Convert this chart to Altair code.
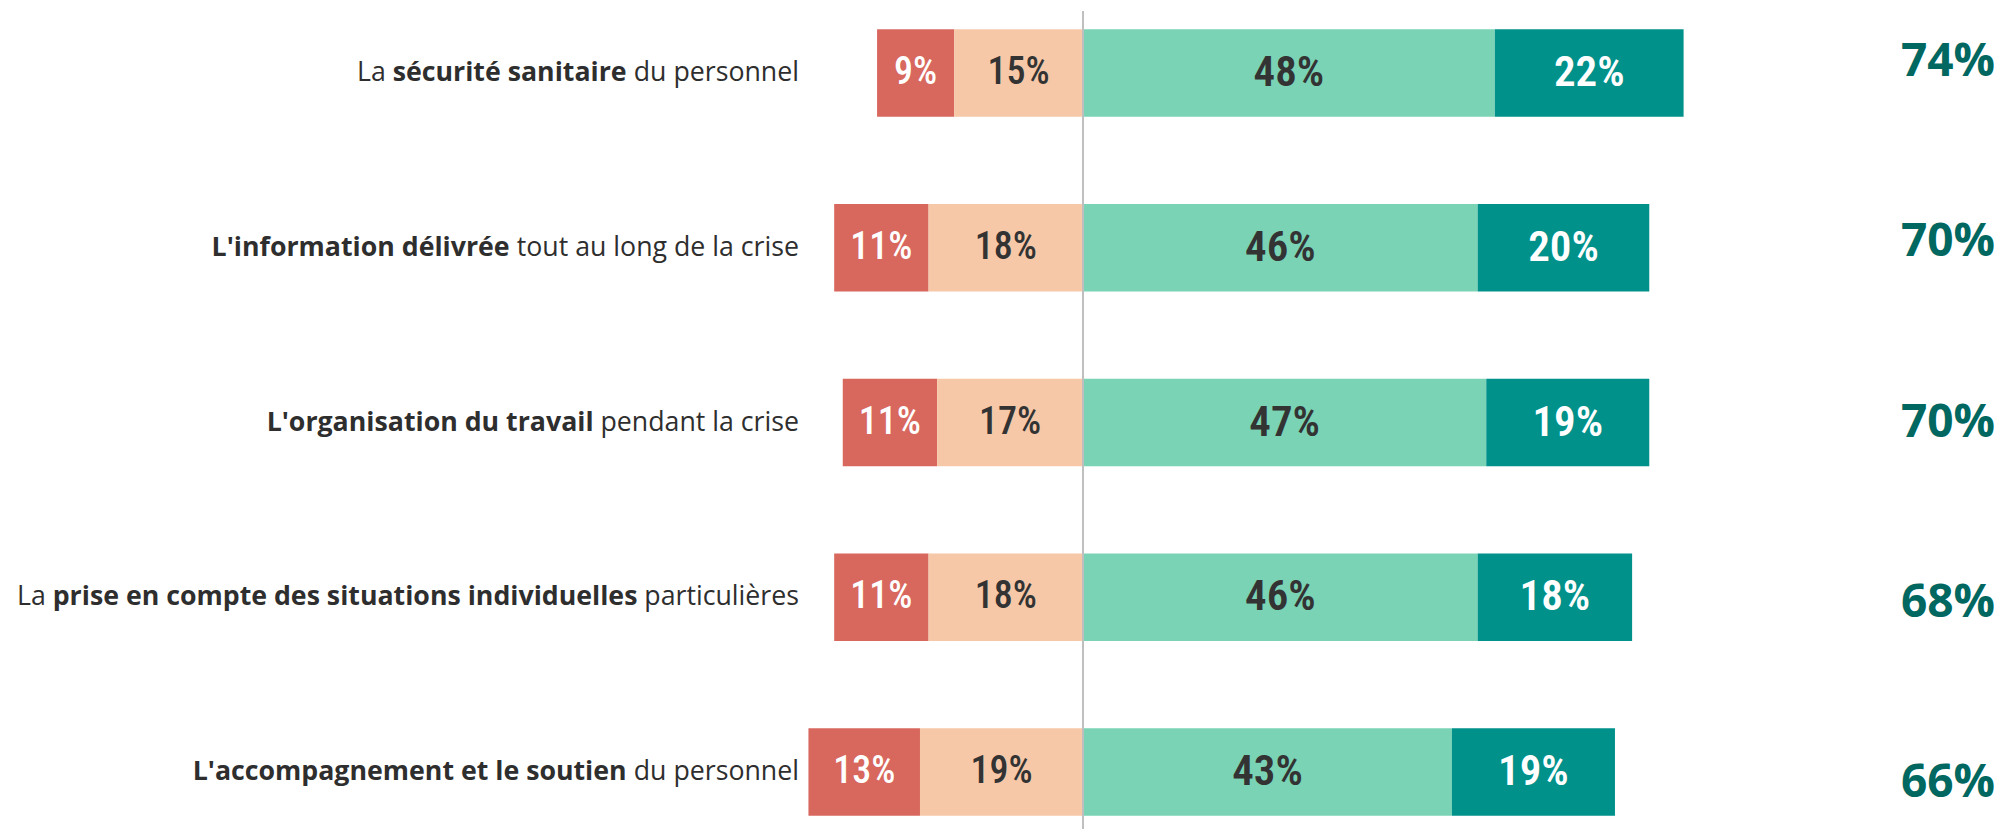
import glob
import os
import struct

import altair as alt
import pandas as pd

# ---------------- data ----------------
categories = [
    "La sécurité sanitaire du personnel",
    "L'information délivrée tout au long de la crise",
    "L'organisation du travail pendant la crise",
    "La prise en compte des situations individuelles particulières",
    "L'accompagnement et le soutien du personnel",
]
label_prefix = ["La", "", "", "La", ""]
label_bold = [
    "sécurité sanitaire",
    "L'information délivrée",
    "L'organisation du travail",
    "prise en compte des situations individuelles",
    "L'accompagnement et le soutien",
]
label_suffix = ["du personnel", "tout au long de la crise", "pendant la crise",
                "particulières", "du personnel"]

pas_du_tout = [9, 11, 11, 11, 13]      # red
plutot_pas = [15, 18, 17, 18, 19]      # peach
plutot_oui = [48, 46, 47, 46, 43]      # light green
tout_a_fait = [22, 20, 19, 18, 19]     # teal
totals = [74, 70, 70, 68, 66]

segments = ["pas_du_tout", "plutot_pas", "plutot_oui", "tout_a_fait"]
seg_colors = ["#D8675D", "#F6C8A8", "#7AD3B5", "#00918B"]
seg_text_colors = ["#FFFFFF", "#333333", "#333333", "#FFFFFF"]

# ---------------- font metrics (for mixed bold / regular labels) ----------------
FONT_FILES = []
for d in ["/usr/share/fonts", "/usr/local/share/fonts",
          os.path.expanduser("~/.fonts"), os.path.expanduser("~/.local/share/fonts")]:
    FONT_FILES += glob.glob(os.path.join(d, "**", "*.[ot]t[fc]"), recursive=True)


def load_width_fn(basename):
    path = None
    for f in FONT_FILES:
        if os.path.basename(f).lower() == basename.lower():
            path = f
            break
    if path is None:
        return None
    try:
        with open(path, "rb") as fh:
            data = fh.read()
        off = struct.unpack(">I", data[12:16])[0] if data[:4] == b"ttcf" else 0
        num_tables = struct.unpack(">H", data[off + 4:off + 6])[0]
        tables = {}
        for i in range(num_tables):
            rec = off + 12 + 16 * i
            tag = data[rec:rec + 4].decode("latin1")
            _, toff, tlen = struct.unpack(">III", data[rec + 4:rec + 16])
            tables[tag] = toff
        head = tables["head"]
        upem = struct.unpack(">H", data[head + 18:head + 20])[0]
        hhea = tables["hhea"]
        num_h = struct.unpack(">H", data[hhea + 34:hhea + 36])[0]
        hmtx = tables["hmtx"]
        adv = [struct.unpack(">H", data[hmtx + 4 * i:hmtx + 4 * i + 2])[0] for i in range(num_h)]
        cmap = tables["cmap"]
        n = struct.unpack(">H", data[cmap + 2:cmap + 4])[0]
        best = None
        for i in range(n):
            pid, eid, soff = struct.unpack(">HHI", data[cmap + 4 + 8 * i:cmap + 12 + 8 * i])
            fmt = struct.unpack(">H", data[cmap + soff:cmap + soff + 2])[0]
            if fmt == 4 and ((pid == 3 and eid == 1) or pid == 0):
                best = cmap + soff
        st = best
        segx2 = struct.unpack(">H", data[st + 6:st + 8])[0]
        seg = segx2 // 2
        ends = struct.unpack(">%dH" % seg, data[st + 14:st + 14 + segx2])
        starts = struct.unpack(">%dH" % seg, data[st + 16 + segx2:st + 16 + 2 * segx2])
        deltas = struct.unpack(">%dh" % seg, data[st + 16 + 2 * segx2:st + 16 + 3 * segx2])
        rpos = st + 16 + 3 * segx2
        ranges = struct.unpack(">%dH" % seg, data[rpos:rpos + segx2])

        def gid(c):
            for i in range(seg):
                if starts[i] <= c <= ends[i]:
                    if ranges[i] == 0:
                        return (c + deltas[i]) & 0xFFFF
                    addr = rpos + 2 * i + ranges[i] + 2 * (c - starts[i])
                    g = struct.unpack(">H", data[addr:addr + 2])[0]
                    return (g + deltas[i]) & 0xFFFF if g else 0
            return 0

        def width(s):
            tot = 0
            for ch in s:
                g = gid(ord(ch))
                tot += adv[g] if g < num_h else adv[-1]
            return tot / upem
        return width
    except Exception:
        return None


LABEL_FONT = "Open Sans"
w_reg = load_width_fn("OpenSans-Regular.ttf")
w_bold = load_width_fn("OpenSans-Bold.ttf")
if not (w_reg and w_bold):
    w_reg = lambda s: 0.55 * len(s)
    w_bold = lambda s: 0.59 * len(s)


def unit_width(i):
    tot = 0.0
    if label_prefix[i]:
        tot += w_reg(label_prefix[i] + " ")
    tot += w_bold(label_bold[i])
    tot += w_reg(" " + label_suffix[i])
    return tot


# label font size so that the label widths match the reference
LABEL_SIZE = (438 / unit_width(0) + 789 / unit_width(3)) / 2
LABEL_RIGHT = 791

# ---------------- tables ----------------
rows = []
for i, cat in enumerate(categories):
    vals = [pas_du_tout[i], plutot_pas[i], plutot_oui[i], tout_a_fait[i]]
    starts_ = [-(vals[0] + vals[1]), -vals[1], 0, vals[2]]
    for k in range(4):
        s = starts_[k]
        e = s + vals[k]
        rows.append(dict(cat=cat, seg=segments[k], start=s, end=e, mid=(s + e) / 2,
                         label=f"{vals[k]}%", side="neg" if k < 2 else "pos"))
bars_df = pd.DataFrame(rows)

lab_rows = []
for i, cat in enumerate(categories):
    sp = LABEL_SIZE * w_reg(" ")
    x_suf = LABEL_RIGHT
    x_bold = x_suf - LABEL_SIZE * w_reg(label_suffix[i]) - sp
    x_pre = x_bold - LABEL_SIZE * w_bold(label_bold[i]) - sp
    lab_rows.append(dict(cat=cat, pre=label_prefix[i], bold=label_bold[i], suf=label_suffix[i],
                         x_pre=x_pre, x_bold=x_bold, x_suf=x_suf))
labels_df = pd.DataFrame(lab_rows)

totals_df = pd.DataFrame(dict(cat=categories, total=[f"{t}%" for t in totals]))
zero_df = pd.DataFrame(dict(x=[0]))

# ---------------- scales ----------------
W, H = 1989, 821
x_scale = alt.Scale(domain=[-100, 100], range=[217, 1933], zero=False, nice=False)
y_bars = alt.Scale(domain=categories, range=[-22.4, 851.4], paddingInner=0.5, paddingOuter=0.25)
y_tot = alt.Scale(domain=categories, range=[-36.1, 865.1], paddingInner=0.5, paddingOuter=0.25)

Y = alt.Y("cat:N", scale=y_bars, axis=None, sort=categories)

bars = alt.Chart(bars_df).mark_bar().encode(
    x=alt.X("start:Q", scale=x_scale, axis=None),
    x2="end:Q",
    y=Y,
    color=alt.Color("seg:N", scale=alt.Scale(domain=segments, range=seg_colors), legend=None),
)


def bar_text_layer(side, size, weight):
    return alt.Chart(bars_df).transform_filter(alt.datum.side == side).mark_text(
        font="Roboto Condensed, Open Sans Condensed, Roboto", fontWeight=weight, fontSize=size,
        baseline="middle", align="center",
    ).encode(
        x=alt.X("mid:Q", scale=x_scale, axis=None),
        y=Y,
        text="label:N",
        color=alt.Color("seg:N", scale=alt.Scale(domain=segments, range=seg_text_colors), legend=None),
    )


bar_text_neg = bar_text_layer("neg", 38, 500)
bar_text_pos = bar_text_layer("pos", 43, 600)

zero_rule = alt.Chart(zero_df).mark_rule(color="#BFBFBF", strokeWidth=2).encode(
    x=alt.X("x:Q", scale=x_scale, axis=None),
    y=alt.value(3),
    y2=alt.value(H),
)


def label_layer(text_field, x_field, weight):
    return alt.Chart(labels_df).mark_text(
        font=LABEL_FONT, fontSize=LABEL_SIZE, fontWeight=weight, align="right",
        baseline="middle", color="#2E2E2E",
    ).encode(
        x=alt.X(f"{x_field}:Q", scale=None, axis=None),
        y=Y,
        text=f"{text_field}:N",
    )


lab_pre = label_layer("pre", "x_pre", "normal")
lab_bold = label_layer("bold", "x_bold", "bold")
lab_suf = label_layer("suf", "x_suf", "normal")

tot_text = alt.Chart(totals_df).mark_text(
    font="Open Sans", fontWeight="bold", fontSize=46, align="right", baseline="middle",
    color="#006860",
).encode(
    x=alt.value(1987),
    y=alt.Y("cat:N", scale=y_tot, axis=None, sort=categories),
    text="total:N",
)

chart = alt.layer(bars, zero_rule, bar_text_neg, bar_text_pos, lab_pre, lab_bold, lab_suf,
                  tot_text).resolve_scale(
    x="independent", y="independent", color="independent"
).properties(
    width=W, height=H, autosize=alt.AutoSizeParams(type="none"), padding=0
).configure_view(stroke=None)

chart.save("out.html", embed_options={"renderer": "svg", "actions": False})
